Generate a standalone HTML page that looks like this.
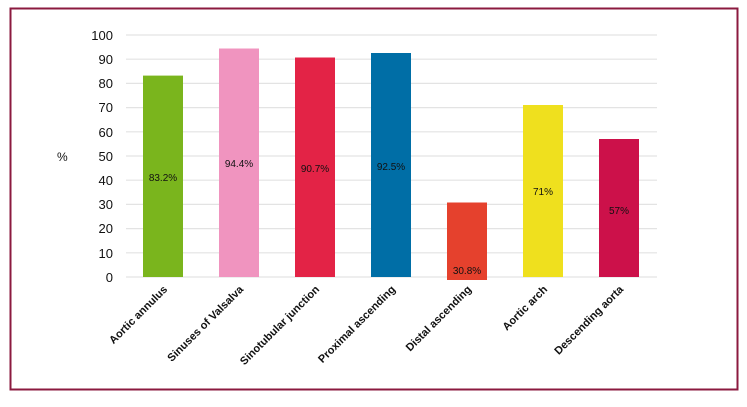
<!DOCTYPE html>
<html><head><style>
body{margin:0;width:747px;height:402px;background:#fff;overflow:hidden}
</style></head><body>
<svg width="747" height="402" xmlns="http://www.w3.org/2000/svg" font-family="Liberation Sans, sans-serif">
<rect x="10.5" y="8.5" width="727" height="381" fill="none" stroke="#8b1a3f" stroke-width="2"/>
<g stroke="#e3e3e3" stroke-width="1.2">
<line x1="126" x2="657" y1="35" y2="35"/><line x1="126" x2="657" y1="59.2" y2="59.2"/>
<line x1="126" x2="657" y1="83.4" y2="83.4"/><line x1="126" x2="657" y1="107.6" y2="107.6"/>
<line x1="126" x2="657" y1="131.8" y2="131.8"/><line x1="126" x2="657" y1="156" y2="156"/>
<line x1="126" x2="657" y1="180.2" y2="180.2"/><line x1="126" x2="657" y1="204.4" y2="204.4"/>
<line x1="126" x2="657" y1="228.6" y2="228.6"/><line x1="126" x2="657" y1="252.8" y2="252.8"/>
<line x1="126" x2="657" y1="277" y2="277"/>
</g>
<g font-size="13" fill="#111" text-anchor="end">
<text x="113" y="40">100</text><text x="113" y="64">90</text><text x="113" y="88">80</text>
<text x="113" y="112">70</text><text x="113" y="137">60</text><text x="113" y="161">50</text>
<text x="113" y="185">40</text><text x="113" y="209">30</text><text x="113" y="233">20</text>
<text x="113" y="258">10</text><text x="113" y="282">0</text>
</g>
<text x="57" y="161" font-size="12" fill="#111">%</text>
<rect x="143" y="75.6" width="40" height="201.4" fill="#7ab51d"/>
<rect x="219" y="48.5" width="40" height="228.5" fill="#f094bf"/>
<rect x="295" y="57.5" width="40" height="219.5" fill="#e32346"/>
<rect x="371" y="53" width="40" height="224" fill="#006ea6"/>
<rect x="447" y="202.5" width="40" height="77.5" fill="#e5412d"/>
<rect x="523" y="105" width="40" height="172" fill="#efe01e"/>
<rect x="599" y="139" width="40" height="138" fill="#cc114a"/>
<g font-size="10" fill="#111" text-anchor="middle">
<text x="163" y="181">83.2%</text><text x="239" y="167">94.4%</text>
<text x="315" y="172">90.7%</text><text x="391" y="170">92.5%</text>
<text x="467" y="274">30.8%</text><text x="543" y="195">71%</text>
<text x="619" y="214">57%</text>
</g>
<g font-size="11" font-weight="bold" fill="#111" text-anchor="end">
<text transform="translate(168,290) rotate(-45)">Aortic annulus</text>
<text transform="translate(244,290) rotate(-45)">Sinuses of Valsalva</text>
<text transform="translate(320,290) rotate(-45)">Sinotubular junction</text>
<text transform="translate(396,290) rotate(-45)">Proximal ascending</text>
<text transform="translate(472,290) rotate(-45)">Distal ascending</text>
<text transform="translate(548,290) rotate(-45)">Aortic arch</text>
<text transform="translate(624,290) rotate(-45)">Descending aorta</text>
</g>
</svg>
</body></html>
